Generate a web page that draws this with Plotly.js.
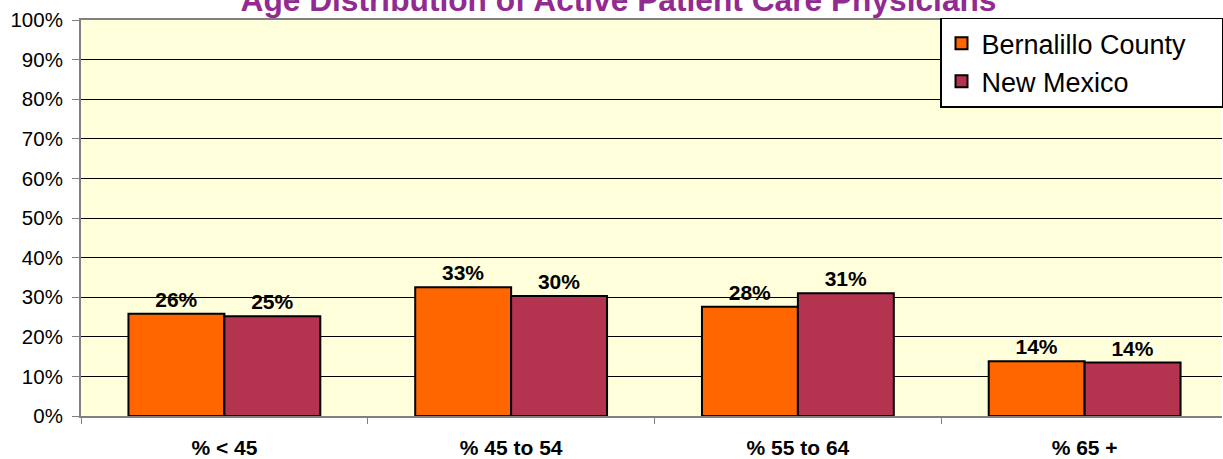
<!DOCTYPE html>
<html>
<head>
<meta charset="utf-8">
<script src="https://cdn.plot.ly/plotly-3.0.1.min.js"></script>
<style>
  html, body { margin: 0; padding: 0; background: #ffffff; }
  #chart { width: 1223px; height: 459px; }
</style>
</head>
<body>
<div id="chart"></div>
<script>
const categories = ['% < 45', '% 45 to 54', '% 55 to 64', '% 65 +'];
const seriesNames = ['Bernalillo County', 'New Mexico'];
const bernalilloValues = [25.8, 32.5, 27.6, 13.8];
const newMexicoValues = [25.2, 30.3, 31.0, 13.5];
const yTickValues = [0, 10, 20, 30, 40, 50, 60, 70, 80, 90, 100];
const yTickLabels = ['0%', '10%', '20%', '30%', '40%', '50%', '60%', '70%', '80%', '90%', '100%'];
const titleText = 'Age Distribution of Active Patient Care Physicians';

const W = 1223, H = 459;
const margin = { l: 81, r: 0, t: 20, b: 43 };
const plotW = W - margin.l - margin.r;
const plotH = H - margin.t - margin.b;
const legendPad = '\u00a0\u00a0\u00a0\u00a0';

const barStyle = (color) => ({
  color: color,
  line: { color: '#000000', width: 2 }
});

const labelFont = { family: 'Arial, Liberation Sans, sans-serif', size: 21, color: '#000000', weight: 'bold' };

const traces = [
  {
    type: 'bar',
    name: seriesNames[0] + legendPad,
    x: categories,
    y: bernalilloValues,
    marker: barStyle('#FF6600'),
    texttemplate: '<b>%{y:.0f}%</b>',
    textposition: 'outside',
    textfont: labelFont,
    cliponaxis: false,
    hoverinfo: 'skip'
  },
  {
    type: 'bar',
    name: seriesNames[1],
    x: categories,
    y: newMexicoValues,
    marker: barStyle('#B43450'),
    texttemplate: '<b>%{y:.0f}%</b>',
    textposition: 'outside',
    textfont: labelFont,
    cliponaxis: false,
    hoverinfo: 'skip'
  }
];

const layout = {
  width: W,
  height: H,
  margin: margin,
  paper_bgcolor: '#ffffff',
  plot_bgcolor: '#FFFFDC',
  font: { family: 'Arial, Liberation Sans, sans-serif', color: '#000000' },
  title: {
    text: '<b>' + titleText + '</b>',
    font: { family: 'Arial, Liberation Sans, sans-serif', size: 31.7, color: '#922B91' },
    xref: 'container',
    yref: 'container',
    x: 618.5 / W,
    xanchor: 'center',
    y: 1 - 11 / H,
    yanchor: 'bottom'
  },
  barmode: 'group',
  bargap: 0.331,
  bargroupgap: 0,
  showlegend: true,
  legend: {
    x: (941 - margin.l) / plotW,
    xanchor: 'left',
    y: (H - margin.b - 17.7) / plotH,
    yanchor: 'top',
    bgcolor: '#ffffff',
    bordercolor: '#000000',
    borderwidth: 1.5,
    font: { family: 'Arial, Liberation Sans, sans-serif', size: 27, color: '#000000' },
    traceorder: 'normal'
  },
  xaxis: {
    type: 'category',
    range: [-0.5, 3.479],
    showline: true,
    linecolor: '#808080',
    linewidth: 2,
    mirror: true,
    ticks: 'outside',
    tickson: 'boundaries',
    ticklen: 6,
    tickcolor: '#808080',
    tickwidth: 1,
    showgrid: false,
    tickfont: { family: 'Arial, Liberation Sans, sans-serif', size: 21, color: '#000000', weight: 'bold' },
    ticklabelstandoff: 12,
    fixedrange: true
  },
  yaxis: {
    range: [0, 100],
    tickmode: 'array',
    tickvals: yTickValues,
    ticktext: yTickLabels,
    showline: true,
    linecolor: '#808080',
    linewidth: 2,
    ticks: 'outside',
    ticklen: 7,
    tickcolor: '#808080',
    tickwidth: 1,
    showgrid: true,
    gridcolor: '#000000',
    gridwidth: 1,
    zeroline: false,
    tickfont: { family: 'Arial, Liberation Sans, sans-serif', size: 20.5, color: '#000000' },
    ticklabelstandoff: 5,
    fixedrange: true
  }
};

Plotly.newPlot('chart', traces, layout, { displayModeBar: false, staticPlot: true });
</script>
</body>
</html>
